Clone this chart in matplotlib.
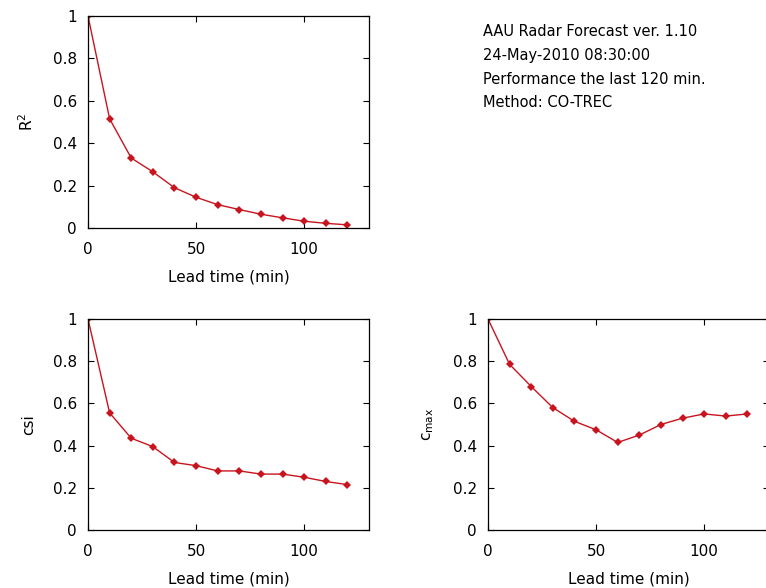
import numpy as np
import matplotlib
matplotlib.use("Agg")
import matplotlib.pyplot as plt

lead_time = [0, 10, 20, 30, 40, 50, 60, 70, 80, 90, 100, 110, 120]
r2 = [1.0, 0.515, 0.33, 0.265, 0.19, 0.145, 0.11, 0.087, 0.065, 0.048, 0.032, 0.022, 0.015]
csi = [1.0, 0.555, 0.435, 0.395, 0.32, 0.305, 0.28, 0.28, 0.265, 0.265, 0.25, 0.23, 0.215]
cmax = [1.0, 0.785, 0.68, 0.58, 0.515, 0.475, 0.415, 0.45, 0.5, 0.53, 0.55, 0.54, 0.55]

info_lines = ["AAU Radar Forecast ver. 1.10",
              "24-May-2010 08:30:00",
              "Performance the last 120 min.",
              "Method: CO-TREC"]

plt.rcParams["font.family"] = "DejaVu Sans"
plt.rcParams["font.size"] = 11

fig = plt.figure(figsize=(7.66, 5.88), dpi=100)

W, H = 766, 588
def px_axes(x0, y0, x1, y1):
    return fig.add_axes([x0 / W, 1 - y1 / H, (x1 - x0) / W, (y1 - y0) / H])

ax1 = px_axes(88, 16, 369, 228)
ax2 = px_axes(88, 319, 369, 530)
ax3 = px_axes(488, 319, 769, 530)

panels = [(ax1, r2, r"R$^{\mathrm{2}}$"), (ax2, csi, "csi"), (ax3, cmax, r"c$_{\mathrm{max}}$")]
for ax, vals, lab in panels:
    ax.plot(lead_time, vals, color="#c8141e", linewidth=1, marker="D",
            markersize=4.5, markeredgewidth=0)
    ax.set_xlim(0, 130)
    ax.set_ylim(0, 1)
    ax.set_xticks([0, 50, 100])
    ax.set_yticks([0, 0.2, 0.4, 0.6, 0.8, 1])
    ax.set_yticklabels(["0", "0.2", "0.4", "0.6", "0.8", "1"])
    ax.tick_params(direction="in", top=True, right=True, length=4, width=0.8)
    ax.tick_params(axis="x", pad=10)
    ax.tick_params(axis="y", pad=8)
    for s in ax.spines.values():
        s.set_linewidth(0.9)
    ax.set_xlabel("Lead time (min)", labelpad=9)
    ax.set_ylabel(lab, labelpad=12)

for i, line in enumerate(info_lines):
    fig.text(483 / W, 1 - (32 + 23.5 * i) / H, line, fontsize=10.5, va="center", ha="left")

fig.savefig("out.png", dpi=100)
